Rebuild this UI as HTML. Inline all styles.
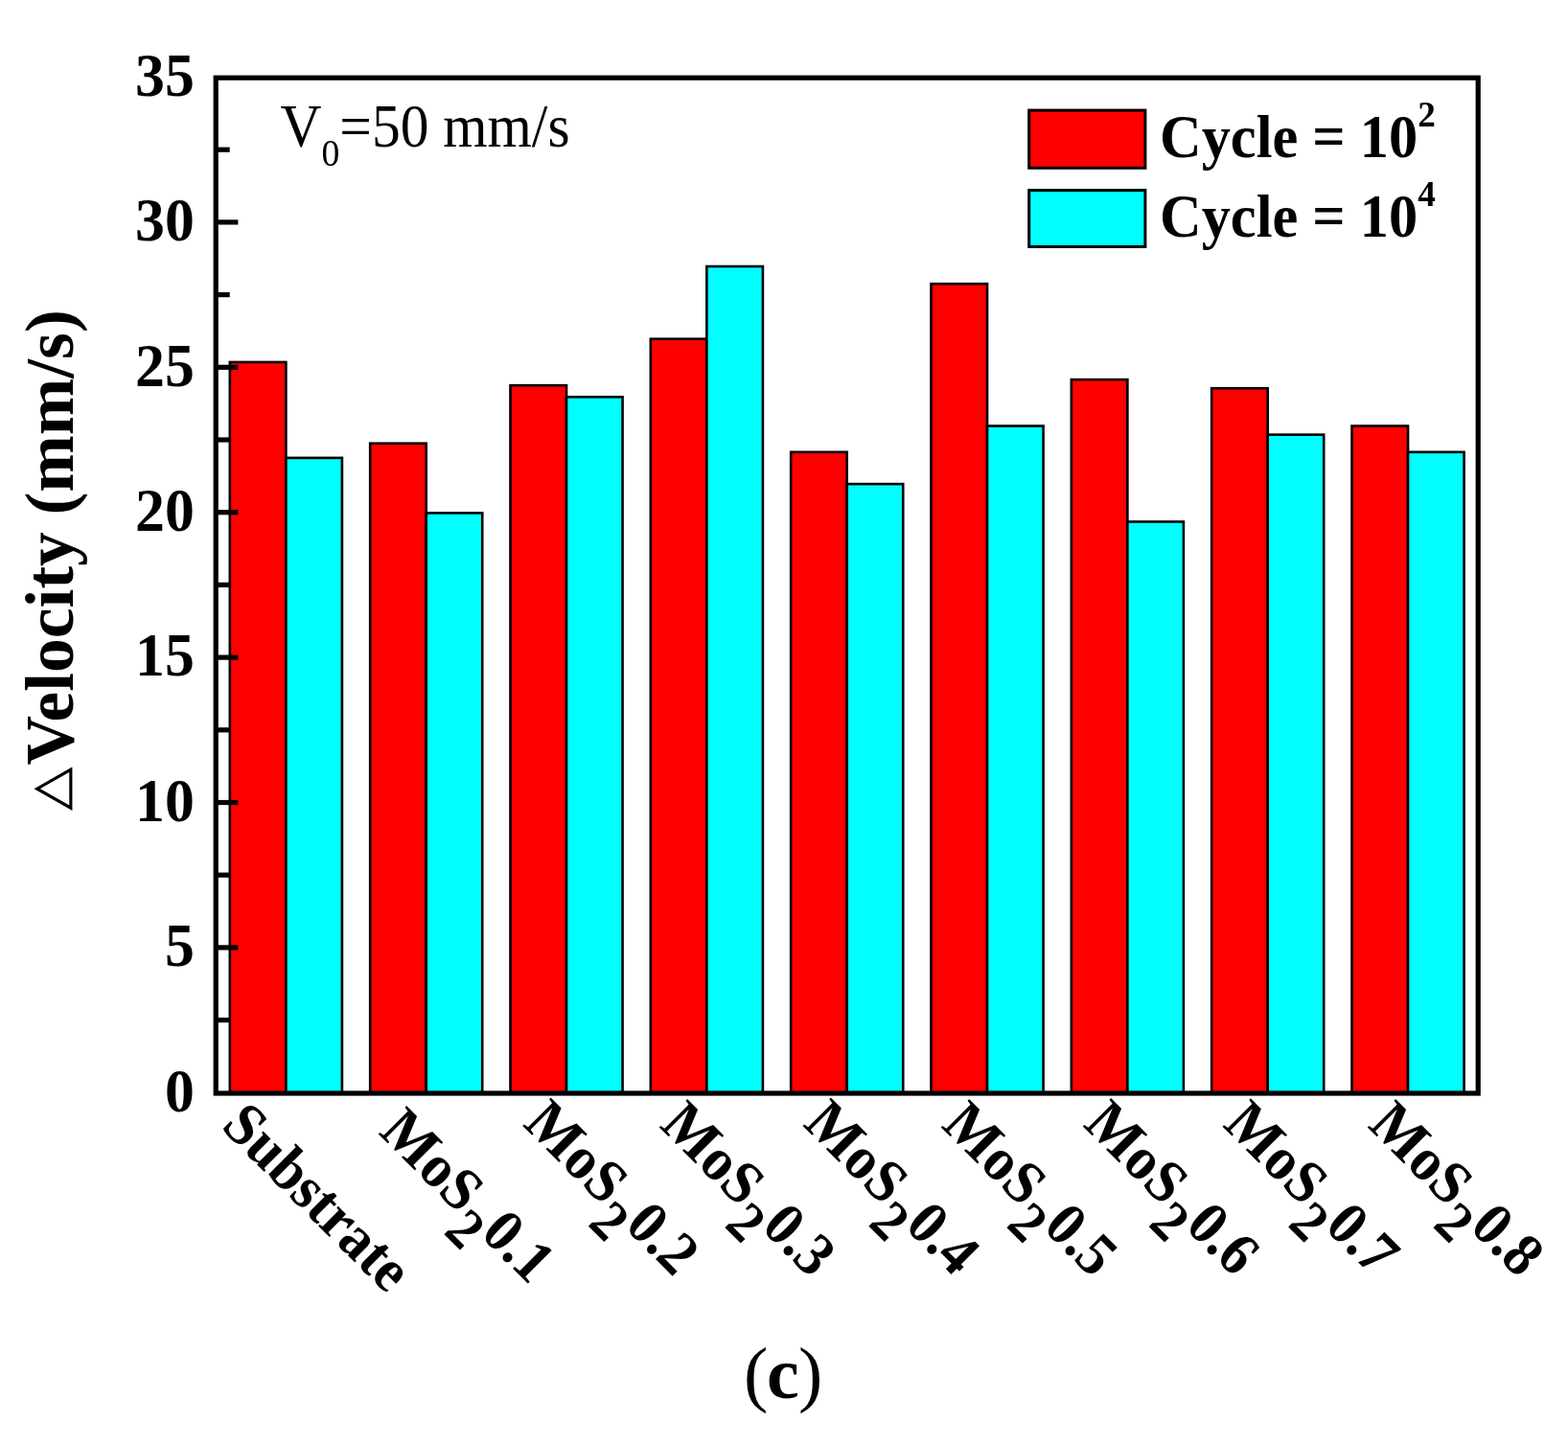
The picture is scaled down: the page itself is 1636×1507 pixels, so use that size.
<!DOCTYPE html>
<html lang="en"><head><meta charset="utf-8"><title>Velocity chart (c)</title>
<style>
html,body{margin:0;padding:0;background:#fff;}
body{width:1636px;height:1507px;overflow:hidden;}
svg{display:block;}
text{font-family:"Liberation Serif","Times New Roman",Times,serif;fill:#000;}
.b{font-weight:bold;}
.tri{font-family:"Noto Sans CJK SC","Noto Sans CJK JP","DejaVu Sans",sans-serif;font-weight:normal;}
</style></head><body>
<svg width="1636" height="1507" viewBox="0 0 1636 1507">
<rect x="0" y="0" width="1636" height="1507" fill="#fff"/>
<g stroke="#000" stroke-width="2.6" stroke-linejoin="miter">
<rect x="239.833" y="377.944" width="58.533" height="763.056" fill="#ff0000"/>
<rect x="298.367" y="477.868" width="58.533" height="663.132" fill="#00ffff"/>
<rect x="386.167" y="462.728" width="58.533" height="678.272" fill="#ff0000"/>
<rect x="444.7" y="535.4" width="58.533" height="605.6" fill="#00ffff"/>
<rect x="532.5" y="402.168" width="58.533" height="738.832" fill="#ff0000"/>
<rect x="591.033" y="414.28" width="58.533" height="726.72" fill="#00ffff"/>
<rect x="678.833" y="353.72" width="58.533" height="787.28" fill="#ff0000"/>
<rect x="737.367" y="278.02" width="58.533" height="862.98" fill="#00ffff"/>
<rect x="825.167" y="471.812" width="58.533" height="669.188" fill="#ff0000"/>
<rect x="883.7" y="505.12" width="58.533" height="635.88" fill="#00ffff"/>
<rect x="971.5" y="296.188" width="58.533" height="844.812" fill="#ff0000"/>
<rect x="1030.033" y="444.56" width="58.533" height="696.44" fill="#00ffff"/>
<rect x="1117.833" y="396.112" width="58.533" height="744.888" fill="#ff0000"/>
<rect x="1176.367" y="544.484" width="58.533" height="596.516" fill="#00ffff"/>
<rect x="1264.167" y="405.196" width="58.533" height="735.804" fill="#ff0000"/>
<rect x="1322.7" y="453.644" width="58.533" height="687.356" fill="#00ffff"/>
<rect x="1410.5" y="444.56" width="58.533" height="696.44" fill="#ff0000"/>
<rect x="1469.033" y="471.812" width="58.533" height="669.188" fill="#00ffff"/>
</g>
<g stroke="#000" stroke-width="5.2" stroke-linecap="butt">
<line x1="225.2" y1="1064.6" x2="239.7" y2="1064.6"/>
<line x1="225.2" y1="988.9" x2="248.4" y2="988.9"/>
<line x1="225.2" y1="913.2" x2="239.7" y2="913.2"/>
<line x1="225.2" y1="837.5" x2="248.4" y2="837.5"/>
<line x1="225.2" y1="761.8" x2="239.7" y2="761.8"/>
<line x1="225.2" y1="686.1" x2="248.4" y2="686.1"/>
<line x1="225.2" y1="610.4" x2="239.7" y2="610.4"/>
<line x1="225.2" y1="534.7" x2="248.4" y2="534.7"/>
<line x1="225.2" y1="459" x2="239.7" y2="459"/>
<line x1="225.2" y1="383.3" x2="248.4" y2="383.3"/>
<line x1="225.2" y1="307.6" x2="239.7" y2="307.6"/>
<line x1="225.2" y1="231.9" x2="248.4" y2="231.9"/>
<line x1="225.2" y1="156.2" x2="239.7" y2="156.2"/>
</g>
<rect x="225.2" y="81.2" width="1317" height="1059.8" fill="none" stroke="#000" stroke-width="5.2"/>
<g class="b" font-size="60" text-anchor="end">
<text transform="translate(202.9 1159.5) scale(1.03 1.04)">0</text>
<text transform="translate(202.9 1008.1) scale(1.03 1.04)">5</text>
<text transform="translate(202.9 856.7) scale(1.03 1.04)">10</text>
<text transform="translate(202.9 705.3) scale(1.03 1.04)">15</text>
<text transform="translate(202.9 553.9) scale(1.03 1.04)">20</text>
<text transform="translate(202.9 402.5) scale(1.03 1.04)">25</text>
<text transform="translate(202.9 251.1) scale(1.03 1.04)">30</text>
<text transform="translate(202.9 99.7) scale(1.03 1.04)">35</text>
</g>
<text class="b" font-size="70" transform="translate(75 846) rotate(-90) scale(1.02 1.015)"><tspan class="tri" font-size="44.695" stroke="#000" stroke-width="1.473">△</tspan><tspan x="46.569" y="1.281">Velocity (mm/s)</tspan></text>
<text class="b" font-size="60" letter-spacing="0" transform="translate(229.6 1176.8) rotate(45) scale(1 1.06)">Substrate</text>
<text class="b" font-size="60" letter-spacing="0" transform="translate(394 1182.7) rotate(45) scale(1 1.06)">MoS<tspan font-size="56" dx="1.4" dy="24">2</tspan><tspan dx="0.6" dy="-24">0.1</tspan></text>
<text class="b" font-size="60" letter-spacing="0" transform="translate(544.5 1174.3) rotate(45) scale(1 1.06)">MoS<tspan font-size="56" dx="1.4" dy="24">2</tspan><tspan dx="0.6" dy="-24">0.2</tspan></text>
<text class="b" font-size="60" letter-spacing="0" transform="translate(687 1175.8) rotate(45) scale(1 1.06)">MoS<tspan font-size="56" dx="1.4" dy="24">2</tspan><tspan dx="0.6" dy="-24">0.3</tspan></text>
<text class="b" font-size="60" letter-spacing="0" transform="translate(836.8 1174.3) rotate(45) scale(1 1.06)">MoS<tspan font-size="56" dx="1.4" dy="24">2</tspan><tspan dx="0.6" dy="-24">0.4</tspan></text>
<text class="b" font-size="60" letter-spacing="0" transform="translate(980.9 1175.8) rotate(45) scale(1 1.06)">MoS<tspan font-size="56" dx="1.4" dy="24">2</tspan><tspan dx="0.6" dy="-24">0.5</tspan></text>
<text class="b" font-size="60" letter-spacing="0" transform="translate(1129.1 1174.7) rotate(45) scale(1 1.06)">MoS<tspan font-size="56" dx="1.4" dy="24">2</tspan><tspan dx="0.6" dy="-24">0.6</tspan></text>
<text class="b" font-size="60" letter-spacing="0" transform="translate(1274.7 1175) rotate(45) scale(1 1.06)">MoS<tspan font-size="56" dx="1.4" dy="24">2</tspan><tspan dx="0.6" dy="-24">0.7</tspan></text>
<text class="b" font-size="60" letter-spacing="0" transform="translate(1426 1175.8) rotate(45) scale(1 1.06)">MoS<tspan font-size="56" dx="1.4" dy="24">2</tspan><tspan dx="0.6" dy="-24">0.8</tspan></text>
<g stroke="#000" stroke-width="3">
<rect x="1073.7" y="115.1" width="121.2" height="60.2" fill="#ff0000"/>
<rect x="1073.7" y="198.5" width="121.2" height="59" fill="#00ffff"/>
</g>
<text class="b" font-size="60" transform="translate(1210 164) scale(1.007 1.04)">Cycle = 10<tspan font-size="37" dy="-30.5">2</tspan></text>
<text class="b" font-size="60" transform="translate(1210 247) scale(1.007 1.04)">Cycle = 10<tspan font-size="37" dy="-30.5">4</tspan></text>
<text font-size="60" transform="translate(292.5 152.8) scale(0.992 1.04)">V<tspan font-size="38" dy="19">0</tspan><tspan dy="-19">=50 mm/s</tspan></text>
<text font-size="76" x="775.9" y="1458.7">(<tspan class="b" dx="-1.3">c</tspan><tspan dx="-0.6">)</tspan></text>
</svg></body></html>
